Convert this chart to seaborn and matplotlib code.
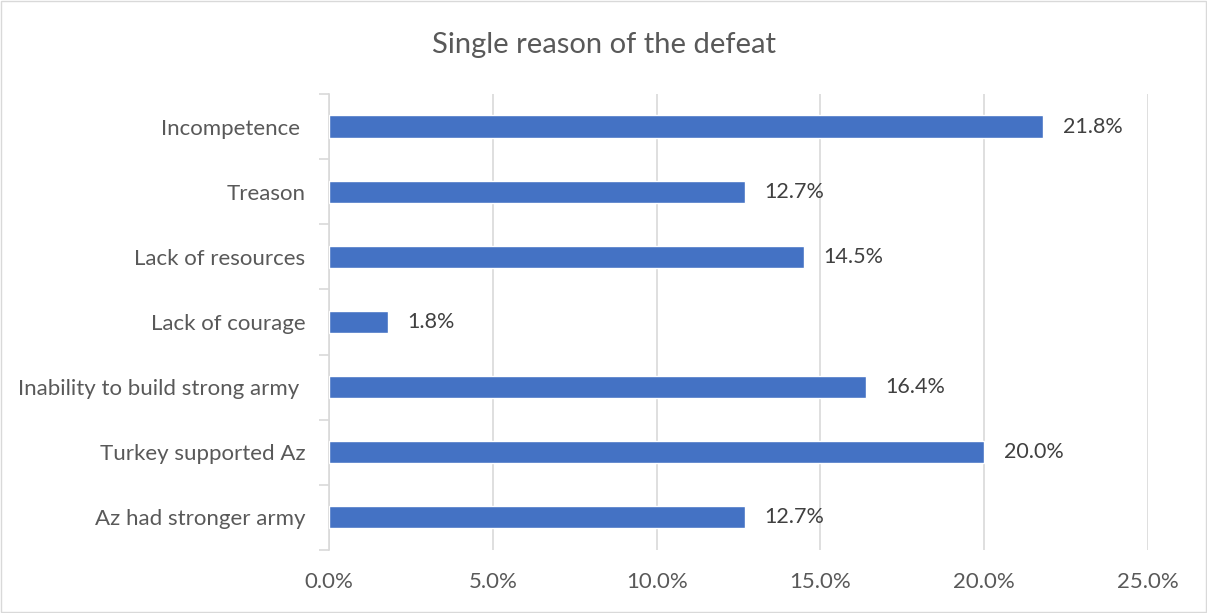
import matplotlib
matplotlib.use("Agg")
import matplotlib.pyplot as plt
import matplotlib.patches as mpatches
from matplotlib.ticker import FuncFormatter, FixedLocator
import seaborn as sns
import pandas as pd

categories = [
    "Incompetence ",
    "Treason",
    "Lack of resources",
    "Lack of courage",
    "Inability to build strong army ",
    "Turkey supported Az",
    "Az had stronger army",
]
shares = [21.8, 12.7, 14.5, 1.8, 16.4, 20.0, 12.7]
x_ticks = [0, 5, 10, 15, 20, 25]

df = pd.DataFrame({"reason": categories, "share": shares})

sns.set_theme(style="white")
plt.rcParams["font.family"] = ["Lato", "DejaVu Sans"]

text_color = "#595959"
bar_color = "#4472C4"
grid_color = "#D9D9D9"

fig = plt.figure(figsize=(12.07, 6.13), dpi=100)
ax = fig.add_axes([0.2726, 0.1028, 0.6785, 0.7439])

sns.barplot(data=df, x="share", y="reason", orient="h", color=bar_color,
            width=0.34, saturation=1, ax=ax, zorder=3)

ax.set_xlim(0, 25)
ax.set_ylim(6.5, -0.5)
ax.xaxis.set_major_locator(FixedLocator(x_ticks))
ax.xaxis.set_major_formatter(FuncFormatter(lambda v, _: f"{v:.1f}%"))
ax.grid(axis="x", color=grid_color, linewidth=1.2, zorder=0)
ax.grid(axis="y", visible=False)

for side in ["top", "right", "bottom"]:
    ax.spines[side].set_visible(False)
ax.spines["left"].set_color(grid_color)
ax.spines["left"].set_linewidth(1.2)

# category labels at bar centres, tick marks on band boundaries
ax.set_yticks(range(len(categories)))
ax.set_yticklabels(categories)
ax.yaxis.set_minor_locator(FixedLocator([i - 0.5 for i in range(len(categories) + 1)]))
ax.tick_params(axis="y", which="major", length=0, pad=17, labelsize=16, labelcolor=text_color)
ax.tick_params(axis="y", which="minor", length=7, width=1.2, color=grid_color, left=True)
ax.tick_params(axis="x", which="major", length=0, pad=16, labelsize=16, labelcolor=text_color)

ax.set_xlabel("")
ax.set_ylabel("")

for container in ax.containers:
    ax.bar_label(container, labels=[f"{v:.1f}%" for v in shares], padding=14,
                 fontsize=15.5, color="#404040")

fig.text(0.5, 0.927, "Single reason of the defeat", ha="center", va="center",
         fontsize=21, color=text_color)

# thin frame around the whole chart
fig.patches.append(mpatches.Rectangle((0.0008, 0.0016), 0.9984, 0.9968,
                                      transform=fig.transFigure, fill=False,
                                      edgecolor="#D9D9D9", linewidth=1.0))

fig.savefig("out.png", dpi=100)
